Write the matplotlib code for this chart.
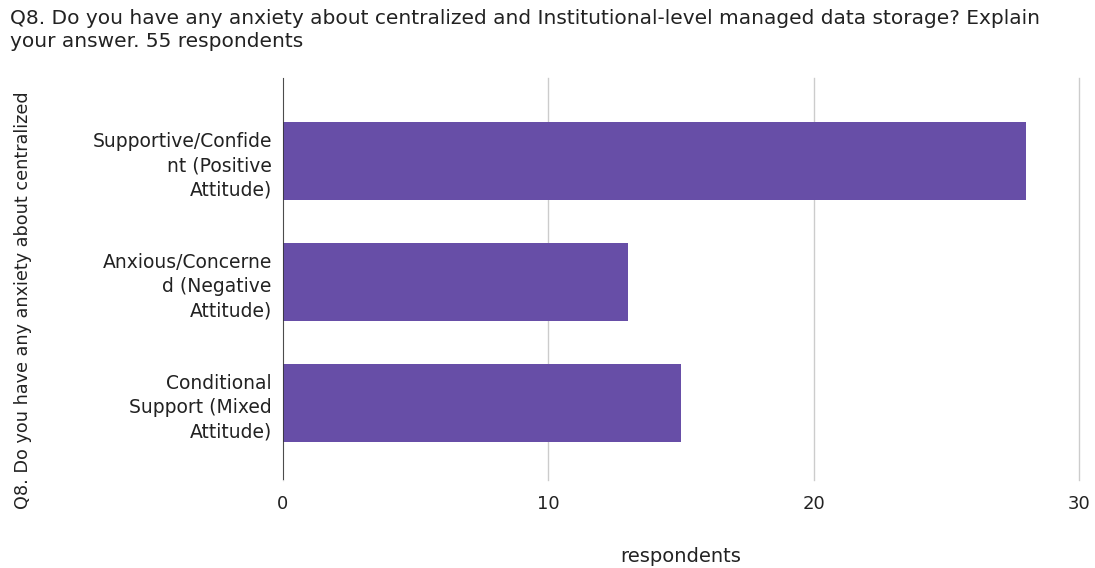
import matplotlib
matplotlib.use("Agg")
import matplotlib.pyplot as plt

categories = [
    "Supportive/Confide\nnt (Positive\nAttitude)",
    "Anxious/Concerne\nd (Negative\nAttitude)",
    "Conditional\nSupport (Mixed\nAttitude)",
]
respondents = [28, 13, 15]
x_ticks = [0, 10, 20, 30]

title = ("Q8. Do you have any anxiety about centralized and Institutional-level managed data storage? Explain\n"
         "your answer. 55 respondents")
y_label = "Q8. Do you have any anxiety about centralized"
x_label = "respondents"

plt.rcParams["font.family"] = ["DejaVu Sans"]
text_color = "#222222"

fig = plt.figure(figsize=(10.95, 5.68), dpi=100)
ax = fig.add_axes([0.2584, 0.155, 0.727, 0.7077])

pos = list(range(len(categories)))
ax.barh(pos, respondents, height=0.645, color="#674ea7", zorder=3)

ax.set_ylim(2.64, -0.69)
ax.set_xlim(0, 30)
ax.set_xticks(x_ticks)
ax.set_xticklabels([str(t) for t in x_ticks], fontsize=13, color=text_color)
ax.set_yticks(pos)
ax.set_yticklabels(categories, fontsize=13.5, color=text_color, linespacing=1.35)
ax.tick_params(length=0)
ax.tick_params(axis="y", pad=8)
ax.tick_params(axis="x", pad=11)

for s in ax.spines.values():
    s.set_visible(False)
ax.grid(axis="x", color="#cccccc", linewidth=1, zorder=0)
for gl in ax.get_xgridlines():
    gl.set_clip_on(False)
ax.axvline(0, color="#333333", linewidth=1.2, zorder=4)

fig.text(0.622, 1 - 556 / 568, x_label, fontsize=14, color=text_color,
         ha="center", va="center")
fig.text(0.021, 1 - 300 / 568, y_label, rotation=90, fontsize=12.7, color=text_color,
         ha="center", va="center")
fig.text(0.009, 1 - 9 / 568, title, fontsize=14.5, color=text_color, ha="left", va="top",
         linespacing=1.25)

fig.savefig("out.png", dpi=100, facecolor="white")
